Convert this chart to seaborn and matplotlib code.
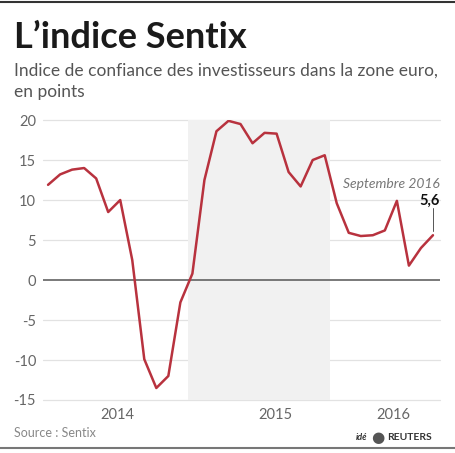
import pandas as pd
import matplotlib.pyplot as plt
import seaborn as sns
from matplotlib.lines import Line2D

# Sentix index, monthly, Jan 2014 -> Sep 2016
values = [11.9, 13.2, 13.8, 14.0, 12.7, 8.5, 10.0, 2.5, -9.9, -13.5, -12.0, -2.8,
          0.8, 12.5, 18.6, 19.9, 19.5, 17.1, 18.4, 18.3, 13.5, 11.7, 15.0, 15.6,
          9.6, 5.9, 5.5, 5.6, 6.2, 9.9, 1.8, 4.0, 5.6]
months = list(range(len(values)))
year_ticks = [5.8, 18.9, 28.7]
year_labels = ['2014', '2015', '2016']
yticks = [-15, -10, -5, 0, 5, 10, 15, 20]

df = pd.DataFrame({'month': months, 'sentix': values})

sns.set_theme(style='white')
plt.rcParams['font.family'] = ['Lato', 'DejaVu Sans']

fig = plt.figure(figsize=(4.56, 4.53), dpi=100, facecolor='white')
ax = fig.add_axes([0.0943, 0.117, 0.871, 0.618])

# grid + zero line
for v in yticks:
    if v == 0:
        ax.axhline(v, color='#555555', lw=1.1, zorder=2)
    else:
        ax.axhline(v, color='#e2e2e2', lw=0.9, zorder=0, clip_on=False)

# shaded year 2015
ax.axvspan(11.6, 23.4, color='#f1f1f1', zorder=0, lw=0)

sns.lineplot(data=df, x='month', y='sentix', ax=ax, color='#b8323e', lw=1.8, zorder=3)

ax.set_xlim(-0.42, 32.6)
ax.set_ylim(-15, 20)
ax.set_yticks(yticks)
ax.set_yticklabels([str(v) for v in yticks], fontsize=10.5, color='#666666')
ax.set_xticks(year_ticks)
ax.set_xticklabels(year_labels, fontsize=10.5, color='#666666')
ax.tick_params(axis='x', length=0, pad=6)
ax.tick_params(axis='y', length=0, pad=5)
ax.set_xlabel('')
ax.set_ylabel('')
sns.despine(ax=ax, left=True, bottom=True)

# annotation for the last point
ax.text(32.6, 12.0, 'Septembre 2016', ha='right', va='center', fontsize=10,
        style='italic', color='#777777')
ax.text(32.6, 9.9, '5,6', ha='right', va='center', fontsize=10.5,
        fontweight='bold', color='#111111')
ax.plot([32, 32], [6.1, 9.0], color='#555555', lw=0.7, zorder=4)

# titles
fig.text(0.030, 0.893, "L\u2019indice Sentix", fontsize=26, fontweight='bold',
         color='#1a1a1a', ha='left', va='baseline')
fig.text(0.030, 0.832, 'Indice de confiance des investisseurs dans la zone euro,',
         fontsize=12.5, color='#555555', ha='left', va='baseline')
fig.text(0.030, 0.785, 'en points', fontsize=12.5, color='#555555',
         ha='left', va='baseline')

# footer
fig.text(0.030, 0.036, 'Source : Sentix', fontsize=9, color='#888888',
         ha='left', va='baseline')
fig.text(0.805, 0.028, 'idé', fontsize=6.5, fontweight='bold', style='italic',
         color='#333333', ha='right', va='baseline')
fig.text(0.828, 0.034, '\u25CF', fontsize=11, color='#555555', ha='center',
         va='center', family='DejaVu Sans')
fig.text(0.848, 0.028, 'REUTERS', fontsize=7.5, fontweight='bold',
         color='#333333', ha='left', va='baseline')

# top / bottom rules
fig.add_artist(Line2D([0, 1], [0.996, 0.996], color='#333333', lw=1.5))
fig.add_artist(Line2D([0, 1], [0.011, 0.011], color='#777777', lw=1.5))

fig.savefig('out.png', dpi=100, facecolor='white')
